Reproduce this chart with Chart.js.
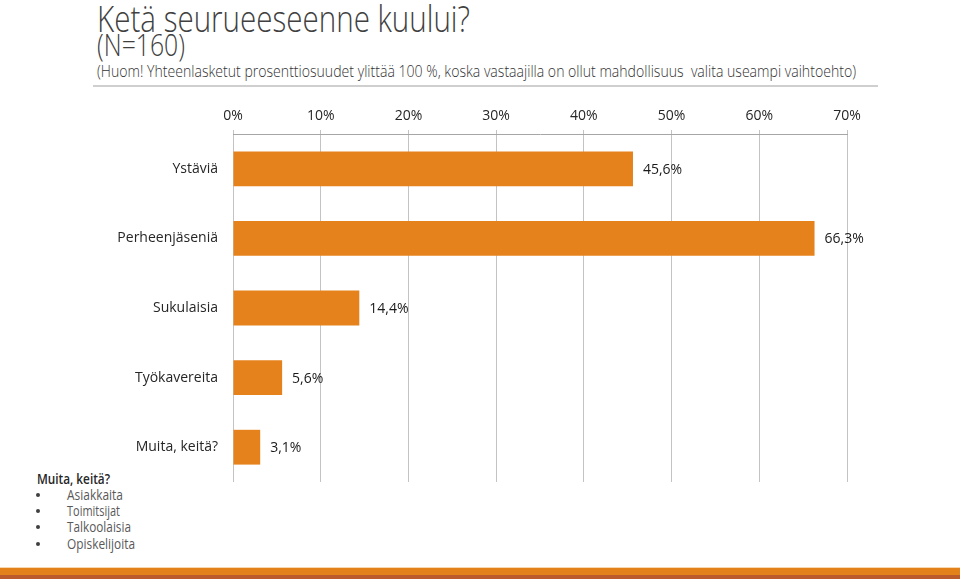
<!DOCTYPE html>
<html>
<head>
<meta charset="utf-8">
<script src="https://cdn.jsdelivr.net/npm/chart.js@4"></script>
<style>
  body { margin: 0; background: #fff; }
  #wrap { position: relative; width: 960px; height: 579px; overflow: hidden; }
  #chartBox { position: absolute; left: 0; top: 0; width: 960px; height: 579px; }
  svg { position: absolute; left: 0; top: 0; }
  svg text { white-space: pre; }
</style>
</head>
<body>
<div id="wrap">
  <svg width="960" height="579" font-family="Open Sans, sans-serif">
    <text x="97" y="32" font-size="37" font-weight="300" fill="#404040" textLength="373" lengthAdjust="spacingAndGlyphs">Ketä seurueeseenne kuului?</text>
    <text x="97" y="56" font-size="31" font-weight="300" fill="#404040" textLength="88" lengthAdjust="spacingAndGlyphs">(N=160)</text>
    <text x="97" y="77" font-size="17" font-weight="300" fill="#333" textLength="759" lengthAdjust="spacingAndGlyphs">(Huom! Yhteenlasketut prosenttiosuudet ylittää 100 %, koska vastaajilla on ollut mahdollisuus  valita useampi vaihtoehto)</text>
    <rect x="93" y="85" width="785" height="2" fill="#cfcfcf"></rect>

    <text x="37" y="484" font-size="15" font-weight="600" fill="#262626" textLength="73" lengthAdjust="spacingAndGlyphs">Muita, keitä?</text>
    <g font-size="15" fill="#595959">
      <circle cx="38" cy="495" r="2" fill="#404040"></circle>
      <text x="67" y="500" textLength="56" lengthAdjust="spacingAndGlyphs">Asiakkaita</text>
      <circle cx="38" cy="511" r="2" fill="#404040"></circle>
      <text x="67" y="516" textLength="53" lengthAdjust="spacingAndGlyphs">Toimitsijat</text>
      <circle cx="38" cy="527" r="2" fill="#404040"></circle>
      <text x="67" y="532" textLength="64" lengthAdjust="spacingAndGlyphs">Talkoolaisia</text>
      <circle cx="38" cy="544" r="2" fill="#404040"></circle>
      <text x="67" y="549" textLength="68" lengthAdjust="spacingAndGlyphs">Opiskelijoita</text>
    </g>

    <rect x="0" y="567" width="960" height="1" fill="#f6d7b0"></rect>
    <rect x="0" y="568" width="960" height="7" fill="#e3821a"></rect>
    <rect x="0" y="575" width="960" height="4" fill="#bb5a2b"></rect>
  </svg>
  <div id="chartBox"><canvas id="chart"></canvas></div>
</div>
<script>
const categories = ["Ystäviä", "Perheenjäseniä", "Sukulaisia", "Työkavereita", "Muita, keitä?"];
const values = [45.6, 66.3, 14.4, 5.6, 3.1];
const tickValues = [0, 10, 20, 30, 40, 50, 60, 70];

const fmt = v => v.toFixed(1).replace(".", ",") + "%";

// value labels to the right of each bar
const barLabels = {
  id: "barLabels",
  afterDatasetsDraw(chart) {
    const ctx = chart.ctx;
    const meta = chart.getDatasetMeta(0);
    ctx.save();
    ctx.font = "14px 'Open Sans', sans-serif";
    ctx.fillStyle = "#1a1a1a";
    ctx.textBaseline = "middle";
    meta.data.forEach((bar, i) => {
      ctx.fillText(fmt(values[i]), bar.x + 10, bar.y + 1);
    });
    ctx.restore();
  }
};

new Chart(document.getElementById("chart"), {
  type: "bar",
  data: {
    labels: categories,
    datasets: [{
      data: values,
      backgroundColor: "#e6821b",
      categoryPercentage: 1,
      barPercentage: 0.5
    }]
  },
  options: {
    indexAxis: "y",
    responsive: true,
    maintainAspectRatio: false,
    animation: false,
    layout: { padding: { top: 0, left: 0, right: 113, bottom: 97 } },
    plugins: { legend: { display: false }, tooltip: { enabled: false } },
    scales: {
      x: {
        position: "top",
        min: 0,
        max: 70,
        afterBuildTicks: s => { s.ticks = tickValues.map(v => ({ value: v })); },
        afterFit: s => { s.height = 134; },
        ticks: {
          callback: v => v + "%",
          color: "#262626",
          padding: 6,
          font: { family: "'Open Sans', sans-serif", size: 14 }
        },
        grid: { color: "#c3c3c3", tickLength: 4 },
        border: { color: "#a6a6a6" }
      },
      y: {
        afterFit: s => { s.width = 233; },
        ticks: {
          color: "#262626",
          padding: 15,
          font: { family: "'Open Sans', sans-serif", size: 14 }
        },
        grid: { display: false, drawTicks: false },
        border: { display: false }
      }
    }
  },
  plugins: [barLabels]
});
</script>
</body>
</html>
